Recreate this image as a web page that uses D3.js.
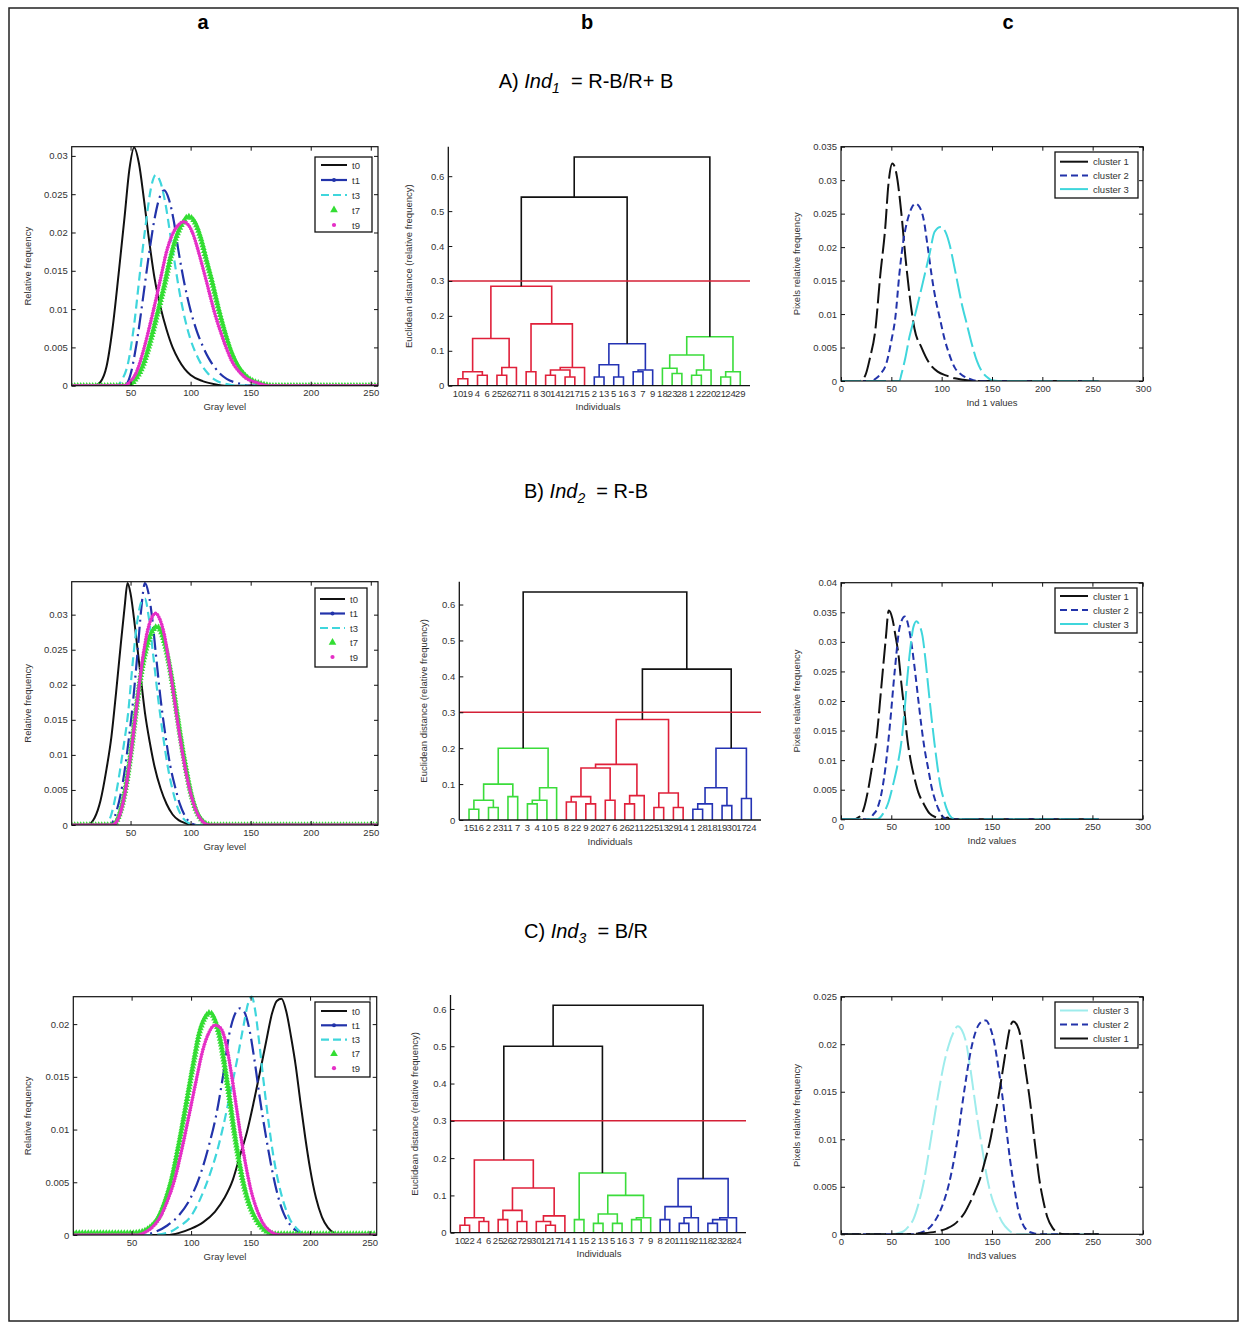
<!DOCTYPE html>
<html>
<head>
<meta charset="utf-8">
<script src="https://cdnjs.cloudflare.com/ajax/libs/d3/7.8.5/d3.min.js"></script>
<style>
  body { margin: 0; background: #fff; }
  svg { display: block; font-family: "Liberation Sans", Arial, sans-serif; }
</style>
</head>
<body>
<svg id="fig" width="1245" height="1323"></svg>
<script>
// ---------- text ----------
const columnLetters = ["a", "b", "c"];
const rowPrefix  = ["A)", "B)", "C)"];
const rowSub     = ["1", "2", "3"];
const rowFormula = ["= R-B/R+ B", "= R-B", "= B/R"];
const histLegend = ["t0", "t1", "t3", "t7", "t9"];
const indLabels  = ["Ind 1 values", "Ind2 values", "Ind3 values"];

// ---------- ticks ----------
const grayTicks = [50, 100, 150, 200, 250];
const indTicks  = [0, 50, 100, 150, 200, 250, 300];
const freqTicks030 = [0, 0.005, 0.01, 0.015, 0.02, 0.025, 0.03];
const freqTicks020 = [0, 0.005, 0.01, 0.015, 0.02];
const freqTicks035 = [0, 0.005, 0.01, 0.015, 0.02, 0.025, 0.03, 0.035];
const freqTicks040 = [0, 0.005, 0.01, 0.015, 0.02, 0.025, 0.03, 0.035, 0.04];
const freqTicks025 = [0, 0.005, 0.01, 0.015, 0.02, 0.025];
const distTicks = [0, 0.1, 0.2, 0.3, 0.4, 0.5, 0.6];
const cutHeight = 0.3;

// ---------- column a : gray level histograms (gray level, relative frequency) ----------
const histA_t0 = [[1,0],[20,0],[25,0.0005],[30,0.0025],[35,0.0075],[40,0.0145],[45,0.022],[49,0.0282],[53,0.0311],[57,0.029],[61,0.0245],[65,0.0195],[70,0.014],[75,0.0102],[80,0.0073],[85,0.005],[90,0.0034],[95,0.0022],[100,0.0014],[110,0.0006],[120,0.0002],[130,0],[256,0]];
const histA_t1 = [[1,0],[45,0],[50,0.0015],[55,0.0055],[60,0.011],[65,0.0168],[70,0.0218],[74,0.0245],[78,0.0255],[82,0.0243],[86,0.0215],[90,0.0175],[95,0.0132],[100,0.0098],[105,0.0072],[110,0.0052],[115,0.0036],[120,0.0024],[125,0.0015],[130,0.0009],[140,0.0003],[150,0],[256,0]];
const histA_t3 = [[1,0],[38,0],[43,0.0008],[48,0.003],[53,0.008],[58,0.015],[63,0.0215],[67,0.0258],[71,0.0275],[75,0.0265],[79,0.0238],[83,0.0198],[87,0.0158],[91,0.012],[95,0.0089],[100,0.006],[105,0.004],[110,0.0025],[115,0.0015],[120,0.0008],[130,0.0002],[140,0],[256,0]];
const histA_t7 = [[1,0],[48,0],[54,0.0008],[60,0.0025],[66,0.0055],[72,0.0092],[78,0.013],[84,0.0172],[89,0.0198],[94,0.0214],[98,0.0221],[103,0.0215],[108,0.0195],[113,0.0165],[118,0.0135],[123,0.0102],[128,0.0073],[133,0.0048],[138,0.003],[144,0.0016],[150,0.0008],[158,0.0003],[170,0],[256,0]];
const histA_t9 = [[1,0],[45,0],[50,0.0006],[55,0.0018],[60,0.0042],[65,0.0072],[70,0.0105],[75,0.014],[80,0.0175],[85,0.0198],[90,0.021],[94,0.0214],[98,0.021],[102,0.0198],[106,0.0178],[110,0.0155],[115,0.0125],[120,0.0095],[125,0.007],[130,0.0048],[135,0.003],[140,0.0019],[146,0.001],[155,0.0004],[165,0],[256,0]];

const histB_t0 = [[1,0],[14,0],[20,0.001],[25,0.0035],[30,0.008],[34,0.0125],[38,0.019],[42,0.026],[45,0.031],[47.5,0.0345],[50,0.033],[54,0.0278],[58,0.0218],[62,0.016],[66,0.0118],[70,0.0083],[75,0.0052],[80,0.003],[85,0.0015],[90,0.0007],[95,0.0003],[102,0],[256,0]];
const histB_t1 = [[1,0],[33,0],[38,0.0018],[43,0.0055],[48,0.0115],[52,0.0175],[56,0.025],[59,0.031],[62,0.0345],[65,0.033],[68,0.0295],[71,0.0245],[75,0.018],[79,0.0128],[83,0.0085],[87,0.0055],[91,0.003],[95,0.0014],[100,0.0003],[105,0],[256,0]];
const histB_t3 = [[1,0],[29,0],[34,0.0015],[39,0.0055],[44,0.011],[48,0.016],[52,0.0235],[56,0.0295],[59,0.0318],[62,0.0323],[65,0.0298],[69,0.024],[73,0.018],[77,0.0128],[81,0.0083],[85,0.005],[89,0.0026],[94,0.0009],[99,0.0002],[104,0],[256,0]];
const histB_t7 = [[1,0],[35,0],[40,0.0012],[45,0.0045],[50,0.01],[55,0.017],[60,0.0228],[64,0.0258],[68,0.0276],[72,0.0283],[76,0.0273],[80,0.0248],[84,0.0212],[88,0.0167],[92,0.0122],[96,0.0082],[100,0.0048],[104,0.0024],[108,0.001],[113,0.0002],[118,0],[256,0]];
const histB_t9 = [[1,0],[35,0],[40,0.001],[45,0.0042],[50,0.0098],[55,0.0168],[60,0.0236],[64,0.0276],[68,0.0297],[71,0.0302],[74,0.0295],[78,0.0272],[82,0.0232],[86,0.0185],[90,0.0138],[94,0.0095],[98,0.006],[102,0.0033],[106,0.0015],[110,0.0005],[116,0],[256,0]];

const histC_t0 = [[1,0],[80,0],[90,0.0002],[100,0.0006],[110,0.0012],[120,0.0022],[128,0.0035],[135,0.0052],[141,0.0075],[147,0.0098],[153,0.0128],[158,0.0155],[163,0.0183],[168,0.021],[172,0.0222],[176,0.0224],[180,0.0212],[184,0.0188],[188,0.016],[192,0.0125],[196,0.0092],[200,0.0063],[205,0.0035],[210,0.0017],[215,0.0007],[220,0.0002],[226,0],[256,0]];
const histC_t1 = [[1,0],[60,0],[70,0.0003],[80,0.0009],[90,0.0019],[100,0.0036],[108,0.0058],[115,0.0085],[121,0.0113],[127,0.0152],[132,0.019],[136,0.0207],[141,0.0215],[145,0.0211],[149,0.0195],[153,0.0168],[158,0.0128],[163,0.0093],[168,0.0062],[173,0.0037],[178,0.002],[183,0.001],[190,0.0003],[198,0],[256,0]];
const histC_t3 = [[1,0],[66,0],[80,0.0002],[90,0.0008],[100,0.0018],[108,0.0035],[115,0.0055],[121,0.0076],[127,0.0103],[133,0.0135],[139,0.0168],[144,0.0198],[148,0.022],[151,0.0226],[154,0.0212],[157,0.0185],[161,0.0145],[165,0.0108],[169,0.0076],[173,0.0052],[178,0.003],[183,0.0015],[189,0.0006],[195,0.0001],[200,0],[256,0]];
const histC_t7 = [[1,0.0002],[50,0.0002],[58,0.0003],[66,0.0008],[72,0.0016],[78,0.0032],[84,0.0055],[90,0.0088],[96,0.0125],[102,0.0163],[107,0.0192],[112,0.0207],[116,0.0211],[120,0.0204],[124,0.0188],[128,0.0162],[132,0.0132],[136,0.01],[140,0.0072],[144,0.0049],[148,0.0032],[153,0.0018],[158,0.0009],[164,0.0003],[172,0.0001],[256,0.0001]];
const histC_t9 = [[1,0],[55,0],[62,0.0003],[68,0.0008],[74,0.0017],[80,0.0032],[86,0.0052],[92,0.008],[98,0.0112],[104,0.0145],[110,0.0176],[115,0.0192],[120,0.0199],[125,0.0196],[130,0.0178],[134,0.0152],[138,0.0122],[142,0.0092],[146,0.0066],[150,0.0044],[155,0.0025],[160,0.0012],[166,0.0004],[175,0],[256,0]];

// ---------- column c : cluster histograms (index value, pixel relative frequency) ----------
const clusA_1 = [[0,0],[18,0],[24,0.0008],[29,0.0036],[34,0.0075],[39,0.0158],[44,0.023],[47,0.0292],[51,0.0325],[55,0.031],[60,0.025],[64,0.0185],[68,0.013],[73,0.0078],[80,0.005],[88,0.0026],[96,0.0014],[105,0.0008],[113,0.0004],[121,0.0002],[135,0],[256,0]];
const clusA_2 = [[0,0],[30,0],[35,0.0004],[40,0.0012],[45,0.0026],[50,0.006],[54,0.0095],[58,0.016],[62,0.021],[66,0.024],[70,0.0258],[74,0.0265],[78,0.026],[82,0.0242],[86,0.0202],[90,0.0158],[94,0.0122],[98,0.0095],[103,0.0062],[108,0.0038],[113,0.002],[120,0.0009],[128,0.0003],[136,0],[256,0]];
const clusA_3 = [[0,0],[58,0],[60,0.001],[64,0.0035],[68,0.0066],[73,0.0095],[78,0.0126],[83,0.0158],[88,0.019],[93,0.0223],[99,0.023],[104,0.0222],[108,0.0203],[112,0.0175],[116,0.0145],[120,0.0115],[125,0.0085],[130,0.0055],[135,0.003],[140,0.0014],[145,0.0006],[150,0.0001],[156,0],[256,0]];

const clusB_1 = [[0,0],[12,0],[19,0.0005],[23,0.002],[27,0.005],[31,0.009],[35.5,0.014],[40,0.0222],[44.5,0.0305],[47.5,0.0353],[51,0.034],[54,0.0312],[57,0.028],[60,0.023],[63,0.0185],[66,0.0135],[69,0.0102],[73,0.007],[77,0.0045],[82,0.0027],[88,0.001],[95,0.0003],[102,0],[106,0.0003],[108,0],[256,0]];
const clusB_2 = [[0,0],[28,0],[32,0.0008],[36,0.0018],[40,0.0042],[44,0.0085],[48.5,0.0157],[53.5,0.0252],[58.5,0.0326],[63.5,0.0343],[68.5,0.0314],[73.5,0.0252],[77,0.02],[80,0.0157],[83,0.012],[87,0.0083],[90,0.0055],[93.5,0.0033],[97,0.0017],[100,0.0007],[103,0.0002],[106,0],[256,0]];
const clusB_3 = [[0,0],[36,0],[42,0.001],[47,0.0028],[52,0.006],[56,0.009],[60,0.013],[63,0.018],[66,0.024],[69,0.029],[72,0.0325],[75,0.0335],[78,0.0328],[81,0.031],[84,0.027],[87,0.022],[90,0.0172],[93,0.0128],[96,0.0088],[99,0.0055],[102,0.0035],[105,0.0018],[108,0.0007],[112,0.0001],[116,0],[256,0]];

const clusC_3 = [[0,0],[48,0],[56,0.0001],[62,0.0003],[67,0.0008],[72,0.0016],[77,0.0032],[82,0.0054],[87,0.0085],[92,0.0118],[97,0.015],[102,0.0178],[107,0.0199],[112,0.0213],[116,0.0219],[120,0.0215],[124,0.0203],[128,0.0178],[132,0.0148],[136,0.0118],[140,0.0092],[145,0.006],[150,0.0038],[155,0.0024],[160,0.0013],[166,0.0005],[174,0],[256,0]];
const clusC_2 = [[0,0],[70,0],[80,0.0002],[87,0.0006],[92,0.0012],[97,0.0021],[102,0.0034],[107,0.0052],[112,0.0077],[116,0.0102],[120,0.0133],[124,0.0162],[128,0.0188],[132,0.0207],[136,0.0219],[140,0.0224],[144,0.0225],[148,0.0218],[152,0.0203],[156,0.0178],[160,0.0148],[164,0.0113],[168,0.0078],[172,0.005],[176,0.0026],[180,0.0012],[185,0.0004],[192,0.0001],[200,0],[256,0]];
const clusC_1 = [[0,0],[60,0],[80,0.0001],[95,0.0003],[105,0.0006],[112,0.001],[118,0.0016],[123,0.0023],[128,0.0033],[133,0.0045],[138,0.0058],[143,0.0077],[148,0.0098],[152,0.012],[156,0.0142],[160,0.0168],[164,0.0195],[168,0.0218],[171,0.0224],[175,0.022],[178,0.021],[181,0.019],[184,0.0168],[188,0.0138],[191,0.011],[194,0.0083],[197,0.0058],[201,0.0035],[205,0.0018],[210,0.0007],[215,0.0002],[222,0],[256,0]];

// ---------- column b : dendrograms ----------
// leaves 1..30 in display order; link rows are [left node, right node, height], new nodes numbered 31, 32, ...
const leavesA = [10,19,4,6,25,26,27,11,8,30,14,12,17,15,2,13,5,16,3,7,9,18,23,28,1,22,20,21,24,29];
const linksA = [[1,2,0.02],[3,4,0.03],[31,32,0.04],[5,6,0.03],[34,7,0.052],[33,35,0.135],[8,9,0.04],[10,11,0.03],[12,13,0.025],[38,39,0.045],[40,14,0.052],[37,41,0.177],[36,42,0.285],[15,16,0.025],[17,18,0.025],[44,45,0.06],[19,20,0.04],[47,21,0.045],[46,48,0.12],[23,24,0.035],[22,50,0.05],[25,26,0.03],[52,27,0.045],[51,53,0.088],[28,29,0.025],[55,30,0.04],[54,56,0.14],[43,49,0.54],[58,57,0.655]];
const clusterColorsA = ["red", "blue", "green"];

const leavesB = [15,16,2,23,11,7,3,4,10,5,8,22,9,20,27,6,26,21,12,25,13,29,14,1,28,18,19,30,17,24];
const linksB = [[1,2,0.03],[3,4,0.035],[31,32,0.055],[5,6,0.065],[33,34,0.1],[7,8,0.045],[36,9,0.055],[37,10,0.09],[35,38,0.2],[11,12,0.05],[13,14,0.045],[40,41,0.065],[15,16,0.055],[42,43,0.145],[17,18,0.045],[45,19,0.068],[44,46,0.155],[20,21,0.035],[22,23,0.035],[48,49,0.075],[47,50,0.28],[24,25,0.03],[52,26,0.045],[27,28,0.04],[53,54,0.09],[29,30,0.06],[55,56,0.2],[51,57,0.42],[39,58,0.635]];
const clusterColorsB = ["green", "red", "blue"];

const leavesC = [10,22,4,6,25,26,27,29,30,12,17,14,1,15,2,13,5,16,3,7,9,8,20,11,19,21,18,23,28,24];
const linksC = [[1,2,0.02],[3,4,0.03],[31,32,0.04],[5,6,0.035],[7,8,0.03],[34,35,0.06],[10,11,0.02],[9,37,0.03],[38,12,0.045],[36,39,0.12],[33,40,0.195],[13,14,0.035],[15,16,0.025],[17,18,0.025],[43,44,0.05],[19,20,0.035],[46,21,0.04],[45,47,0.1],[42,48,0.16],[41,49,0.5],[22,23,0.035],[24,25,0.025],[52,26,0.04],[51,53,0.07],[27,28,0.025],[55,29,0.035],[56,30,0.04],[54,57,0.145],[50,58,0.61]];
const clusterColorsC = ["red", "green", "blue"];

// ---------- styling ----------
const ink = "#111";
const palette = { red: "#e0203a", green: "#3bdc3b", blue: "#2433b4" };
const cBlue = "#2233aa", cCyan = "#3fd6dc", cPale = "#9eecec", cGreen = "#33dd33", cMag = "#e52fc6";
const fmt = d3.format("~g");

const svg = d3.select("#fig");
svg.append("rect").attr("width", 1245).attr("height", 1323).attr("fill", "#fff");
svg.append("rect").attr("x", 9).attr("y", 8).attr("width", 1229).attr("height", 1313)
  .attr("fill", "none").attr("stroke", "#222").attr("stroke-width", 1.5);

// column letters
[203, 587, 1008].forEach((cx, i) => {
  svg.append("text").attr("x", cx).attr("y", 29).attr("text-anchor", "middle")
    .attr("font-size", "20px").attr("font-weight", "bold").text(columnLetters[i]);
});

// row titles
[88, 498, 938].forEach((by, i) => {
  const t = svg.append("text").attr("x", 586).attr("y", by).attr("text-anchor", "middle")
    .attr("font-size", "20px").style("white-space", "pre");
  t.append("tspan").text(rowPrefix[i] + " ");
  t.append("tspan").attr("font-style", "italic").text("Ind");
  t.append("tspan").attr("font-style", "italic").attr("font-size", "14px").attr("dy", 5).text(rowSub[i]);
  t.append("tspan").attr("dy", -5).text("  " + rowFormula[i]);
});

let clipN = 0;

function styleAxis(g) {
  g.select(".domain").remove();
  g.selectAll(".tick line").attr("stroke", ink);
  g.selectAll(".tick text").attr("fill", "#333").attr("font-size", "9.5px")
    .attr("font-family", "Liberation Sans, Arial, sans-serif");
}

function linePanel(o) {
  const b = o.box;
  const x = d3.scaleLinear().domain(o.xDomain).range([b.x0, b.x1]);
  const y = d3.scaleLinear().domain(o.yDomain).range([b.y1, b.y0]);
  const g = svg.append("g");
  const clipId = "clip" + (clipN++);
  g.append("clipPath").attr("id", clipId).append("rect")
    .attr("x", b.x0).attr("y", b.y0 - 2).attr("width", b.x1 - b.x0).attr("height", b.y1 - b.y0 + 2);
  const plot = g.append("g").attr("clip-path", `url(#${clipId})`);
  const line = d3.line().x(d => x(d[0])).y(d => y(d[1])).curve(d3.curveMonotoneX);

  o.series.forEach(s => {
    const p = plot.append("path").attr("d", line(s.data)).attr("fill", "none");
    if (!s.marker) {
      p.attr("stroke", s.color).attr("stroke-width", s.width).attr("stroke-dasharray", s.dash || null);
      return;
    }
    // dense markers along the plotted curve
    p.attr("stroke", "none");
    const node = p.node(), L = node.getTotalLength();
    const pts = d3.range(0, L, s.step).map(l => node.getPointAtLength(l));
    if (s.marker === "tri") {
      plot.append("g").selectAll("path").data(pts).join("path")
        .attr("transform", d => `translate(${d.x},${d.y})`)
        .attr("d", d3.symbol(d3.symbolTriangle, s.size)).attr("fill", s.color);
    } else {
      plot.append("g").selectAll("circle").data(pts).join("circle")
        .attr("cx", d => d.x).attr("cy", d => d.y).attr("r", s.size).attr("fill", s.color);
    }
  });

  // box and ticks on all four sides
  g.append("g").attr("transform", `translate(0,${b.y1})`)
    .call(d3.axisBottom(x).tickValues(o.xTicks).tickSize(-4).tickPadding(4).tickFormat(fmt)).call(styleAxis);
  g.append("g").attr("transform", `translate(0,${b.y0})`)
    .call(d3.axisTop(x).tickValues(o.xTicks).tickSize(-4).tickFormat("")).call(styleAxis);
  g.append("g").attr("transform", `translate(${b.x0},0)`)
    .call(d3.axisLeft(y).tickValues(o.yTicks).tickSize(-4).tickPadding(4).tickFormat(fmt)).call(styleAxis);
  g.append("g").attr("transform", `translate(${b.x1},0)`)
    .call(d3.axisRight(y).tickValues(o.yTicks).tickSize(-4).tickFormat("")).call(styleAxis);
  g.append("rect").attr("x", b.x0).attr("y", b.y0).attr("width", b.x1 - b.x0).attr("height", b.y1 - b.y0)
    .attr("fill", "none").attr("stroke", ink).attr("stroke-width", 1.2);

  g.append("text").attr("x", (b.x0 + b.x1) / 2).attr("y", b.y1 + 24.5).attr("text-anchor", "middle")
    .attr("font-size", "9.5px").attr("fill", "#333").text(o.xLabel);
  g.append("text").attr("transform", `translate(${o.yLabelX},${(b.y0 + b.y1) / 2}) rotate(-90)`)
    .attr("text-anchor", "middle").attr("font-size", "9.5px").attr("fill", "#333").text(o.yLabel);

  // legend
  const lg = o.legend;
  const lgG = g.append("g");
  lgG.append("rect").attr("x", lg.x).attr("y", lg.y).attr("width", lg.w).attr("height", lg.h)
    .attr("fill", "#fff").attr("stroke", ink).attr("stroke-width", 1.3);
  o.series.forEach((s, i) => {
    const cy = lg.y + lg.first + i * lg.step;
    const x0 = lg.x + lg.l0, x1 = lg.x + lg.l1, xm = (x0 + x1) / 2;
    if (s.marker === "tri") {
      lgG.append("path").attr("transform", `translate(${xm},${cy})`)
        .attr("d", d3.symbol(d3.symbolTriangle, s.size * 1.4)).attr("fill", s.color);
    } else if (s.marker === "dot") {
      lgG.append("circle").attr("cx", xm).attr("cy", cy).attr("r", s.size + 0.3).attr("fill", s.color);
    } else {
      lgG.append("line").attr("x1", x0).attr("x2", x1).attr("y1", cy).attr("y2", cy)
        .attr("stroke", s.color).attr("stroke-width", s.width)
        .attr("stroke-dasharray", s.legendDash || null);
      if (s.legendDot) lgG.append("circle").attr("cx", xm).attr("cy", cy).attr("r", 2).attr("fill", s.color);
    }
    lgG.append("text").attr("x", lg.x + lg.tx).attr("y", cy + 3.5).attr("font-size", "9.5px")
      .attr("fill", "#333").text(s.name);
  });
}

function dendroPanel(o) {
  const n = o.labels.length;
  const x = d3.scaleLinear().domain([0, n + 1]).range([o.x0, o.x1]);
  const hmax = d3.max(o.links, d => d[2]);
  const y = d3.scaleLinear().domain([0, hmax * 1.045]).range([o.base, o.top]);
  const pos = {}, hgt = {}, kids = {};
  for (let i = 1; i <= n; i++) { pos[i] = i; hgt[i] = 0; }
  o.links.forEach((l, k) => {
    const id = n + 1 + k;
    pos[id] = (pos[l[0]] + pos[l[1]]) / 2; hgt[id] = l[2]; kids[id] = [l[0], l[1]];
  });
  // clusters: subtrees just under the cut line, coloured left to right
  const col = {};
  const paint = (id, c) => { if (kids[id]) { col[id] = c; kids[id].forEach(ch => paint(ch, c)); } };
  const roots = [];
  o.links.forEach(l => {
    if (l[2] >= cutHeight) [l[0], l[1]].forEach(ch => { if (kids[ch] && hgt[ch] < cutHeight) roots.push(ch); });
  });
  roots.sort((a, b) => pos[a] - pos[b]).forEach((r, i) => paint(r, palette[o.colors[i]]));

  const g = svg.append("g");
  const seg = d3.line().x(d => x(d[0])).y(d => y(d[1]));
  o.links.forEach((l, k) => {
    const id = n + 1 + k, a = l[0], b = l[1];
    g.append("path")
      .attr("d", seg([[pos[a], hgt[a]], [pos[a], l[2]], [pos[b], l[2]], [pos[b], hgt[b]]]))
      .attr("fill", "none").attr("stroke", col[id] || ink).attr("stroke-width", 1.6);
  });

  // cut line
  g.append("line").attr("x1", x(0)).attr("x2", x(n + 1)).attr("y1", y(cutHeight)).attr("y2", y(cutHeight))
    .attr("stroke", "#d42036").attr("stroke-width", 1.5);

  // axes
  g.append("g").attr("transform", `translate(${o.x0},0)`)
    .call(d3.axisLeft(y).tickValues(distTicks).tickSize(-4).tickPadding(4).tickFormat(fmt))
    .call(styleAxis);
  g.append("line").attr("x1", o.x0).attr("x2", o.x0).attr("y1", o.base).attr("y2", o.top)
    .attr("stroke", ink).attr("stroke-width", 1.3);
  g.append("line").attr("x1", o.x0).attr("x2", o.x1).attr("y1", o.base).attr("y2", o.base)
    .attr("stroke", ink).attr("stroke-width", 1.3);
  g.append("g").selectAll("text").data(o.labels).join("text")
    .attr("x", (d, i) => x(i + 1)).attr("y", o.base + 11).attr("text-anchor", "middle")
    .attr("font-size", "9.5px").attr("fill", "#333").text(d => d);

  g.append("text").attr("x", o.xLabelX).attr("y", o.base + 24.5).attr("text-anchor", "middle")
    .attr("font-size", "9.5px").attr("fill", "#333").text("Individuals");
  g.append("text").attr("transform", `translate(${o.yLabelX},${(o.base + o.top) / 2}) rotate(-90)`)
    .attr("text-anchor", "middle").attr("font-size", "9.5px").attr("fill", "#333")
    .text("Euclidean distance (relative frequency)");
}

function histSeries(t0, t1, t3, t7, t9) {
  return [
    { name: histLegend[0], data: t0, color: ink, width: 2 },
    { name: histLegend[1], data: t1, color: cBlue, width: 2.2, dash: "16,5,2,5", legendDot: true },
    { name: histLegend[2], data: t3, color: cCyan, width: 2.2, dash: "9,5", legendDash: "8,4" },
    { name: histLegend[3], data: t7, color: cGreen, marker: "tri", step: 3, size: 18 },
    { name: histLegend[4], data: t9, color: cMag, marker: "dot", step: 2.6, size: 1.8 }
  ];
}

function clusterSeries(list) {
  return list.map(c => ({ name: "cluster " + c.id, data: c.data, color: c.color, width: 2,
    dash: c.id === 2 ? "7,4" : "20,5", legendDash: c.id === 2 ? "7,4" : null }));
}

// ---------- column a ----------
const histBoxes = [
  { x0: 71.7, x1: 378, y0: 146.7, y1: 385.7 },
  { x0: 71.7, x1: 378, y0: 581.7, y1: 825 },
  { x0: 73.3, x1: 376.7, y0: 996.7, y1: 1235 }
];
const histLegends = [
  { x: 315, y: 157, w: 57, h: 75, first: 8, step: 15, l0: 6, l1: 32, tx: 37 },
  { x: 315, y: 588, w: 52, h: 79, first: 11, step: 14.5, l0: 5, l1: 30, tx: 35 },
  { x: 315, y: 1002, w: 55, h: 75, first: 9, step: 14.3, l0: 6, l1: 32, tx: 37 }
];
[[histA_t0, histA_t1, histA_t3, histA_t7, histA_t9, [0, 0.0312], freqTicks030],
 [histB_t0, histB_t1, histB_t3, histB_t7, histB_t9, [0, 0.0347], freqTicks030],
 [histC_t0, histC_t1, histC_t3, histC_t7, histC_t9, [0, 0.0226], freqTicks020]
].forEach((r, i) => {
  linePanel({
    box: histBoxes[i], xDomain: [1, 256], yDomain: r[5], xTicks: grayTicks, yTicks: r[6],
    series: histSeries(r[0], r[1], r[2], r[3], r[4]), legend: histLegends[i],
    xLabel: "Gray level", yLabel: "Relative frequency", yLabelX: 31
  });
});

// ---------- column c ----------
const clusBoxes = [
  { x0: 841, x1: 1143, y0: 146.7, y1: 381 },
  { x0: 841, x1: 1142.7, y0: 582.7, y1: 819.3 },
  { x0: 841, x1: 1143, y0: 996.7, y1: 1234.3 }
];
const clusLegends = [
  { x: 1055, y: 152, w: 83, h: 46, first: 9.7, step: 13.7, l0: 5, l1: 33, tx: 38 },
  { x: 1055, y: 588, w: 82, h: 45, first: 8, step: 14, l0: 5, l1: 33, tx: 38 },
  { x: 1055, y: 1002, w: 83, h: 46, first: 8.5, step: 14, l0: 5, l1: 33, tx: 38 }
];
[[[{ id: 1, data: clusA_1, color: ink }, { id: 2, data: clusA_2, color: cBlue }, { id: 3, data: clusA_3, color: cCyan }], [0, 0.035], freqTicks035],
 [[{ id: 1, data: clusB_1, color: ink }, { id: 2, data: clusB_2, color: cBlue }, { id: 3, data: clusB_3, color: cCyan }], [0, 0.04], freqTicks040],
 [[{ id: 3, data: clusC_3, color: cPale }, { id: 2, data: clusC_2, color: cBlue }, { id: 1, data: clusC_1, color: ink }], [0, 0.025], freqTicks025]
].forEach((r, i) => {
  linePanel({
    box: clusBoxes[i], xDomain: [0, 300], yDomain: r[1], xTicks: indTicks, yTicks: r[2],
    series: clusterSeries(r[0]), legend: clusLegends[i],
    xLabel: indLabels[i], yLabel: "Pixels relative frequency", yLabelX: 800
  });
});

// ---------- column b ----------
dendroPanel({ labels: leavesA, links: linksA, colors: clusterColorsA,
  x0: 448.3, x1: 750, base: 385.7, top: 146.7, xLabelX: 598, yLabelX: 412 });
dendroPanel({ labels: leavesB, links: linksB, colors: clusterColorsB,
  x0: 459.3, x1: 761, base: 820, top: 581.7, xLabelX: 610, yLabelX: 427 });
dendroPanel({ labels: leavesC, links: linksC, colors: clusterColorsC,
  x0: 450.5, x1: 746, base: 1232.7, top: 995, xLabelX: 599, yLabelX: 418 });
</script>
</body>
</html>
